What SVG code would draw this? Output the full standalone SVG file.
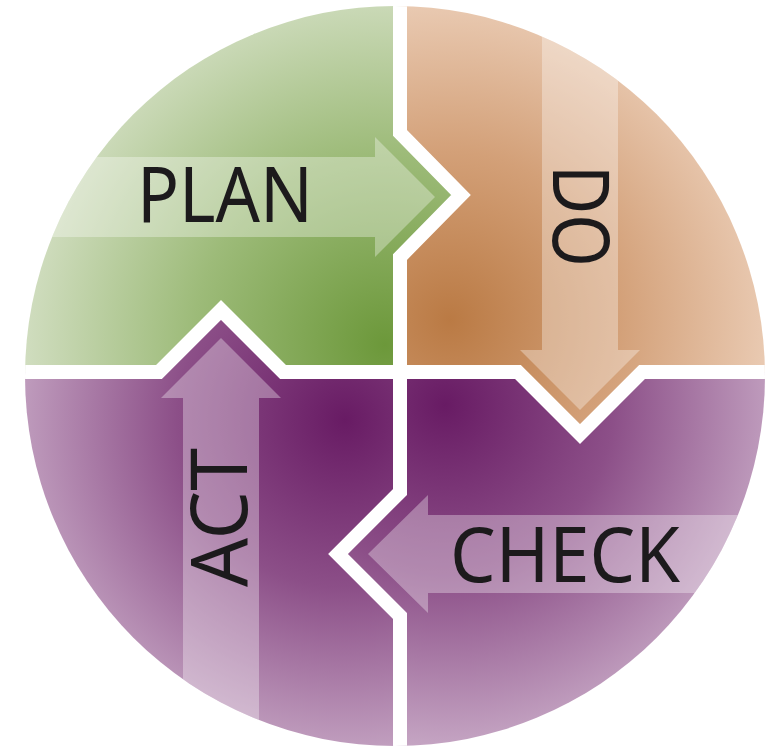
<svg xmlns="http://www.w3.org/2000/svg" width="766" height="747" viewBox="0 0 766 747">
  <style>
    .lbl { font-family: "Noto Sans", "Open Sans", "Liberation Sans", sans-serif; fill: #1c1a1c; }
    .arrow { fill: #ffffff; fill-opacity: 0.33; }
    .gap { fill: none; stroke: #ffffff; stroke-width: 14; stroke-linejoin: miter; stroke-miterlimit: 10; }
  </style>
  <defs>
    <clipPath id="circ"><circle cx="395" cy="376" r="370"/></clipPath>
    <clipPath id="qPlan"><path d="M0,0 H400 V133 L461,195 L400,257 V372 H283 L221,310 L159,372 H0 Z"/></clipPath>
    <clipPath id="qDo"><path d="M400,0 H766 V372 H642 L580,434 L518,372 H400 V257 L461,195 L400,133 Z"/></clipPath>
    <clipPath id="qCheck"><path d="M400,372 H518 L580,434 L642,372 H766 V747 H400 V616 L338,554 L400,492 Z"/></clipPath>
    <clipPath id="qAct"><path d="M0,372 H159 L221,310 L283,372 H400 V492 L338,554 L400,616 V747 H0 Z"/></clipPath>
    <radialGradient id="gPlan" gradientUnits="userSpaceOnUse" cx="385" cy="345" r="480">
      <stop offset="0" stop-color="#6c983a"/>
      <stop offset="0.4" stop-color="#9dbb79"/>
      <stop offset="0.75" stop-color="#d0ddbf"/>
      <stop offset="1" stop-color="#eef3e7"/>
    </radialGradient>
    <radialGradient id="gDo" gradientUnits="userSpaceOnUse" cx="450" cy="320" r="420">
      <stop offset="0" stop-color="#ba7a44"/>
      <stop offset="0.4" stop-color="#d3a078"/>
      <stop offset="0.8" stop-color="#eccfb9"/>
      <stop offset="1" stop-color="#f5e3d5"/>
    </radialGradient>
    <radialGradient id="gCheck" gradientUnits="userSpaceOnUse" cx="445" cy="405" r="420">
      <stop offset="0" stop-color="#681b64"/>
      <stop offset="0.4" stop-color="#8c4f88"/>
      <stop offset="0.8" stop-color="#c3a2c1"/>
      <stop offset="1" stop-color="#d9c4d8"/>
    </radialGradient>
    <radialGradient id="gAct" gradientUnits="userSpaceOnUse" cx="345" cy="420" r="420">
      <stop offset="0" stop-color="#681b64"/>
      <stop offset="0.4" stop-color="#8c4f88"/>
      <stop offset="0.8" stop-color="#c3a2c1"/>
      <stop offset="1" stop-color="#d9c4d8"/>
    </radialGradient>
  </defs>

  <g clip-path="url(#circ)">
    <g id="plan">
      <g clip-path="url(#qPlan)">
        <rect x="0" y="0" width="766" height="747" fill="url(#gPlan)"/>
        <polygon class="arrow" points="0,157 375,157 375,137 435,197 375,257 375,237 0,237"/>
      </g>
      <text class="lbl" x="137" y="222" font-size="76" textLength="176" lengthAdjust="spacingAndGlyphs">PLAN</text>
    </g>

    <g id="do">
      <g clip-path="url(#qDo)">
        <rect x="0" y="0" width="766" height="747" fill="url(#gDo)"/>
        <polygon class="arrow" points="542,0 618,0 618,350 640,350 580,410 520,350 542,350"/>
      </g>
      <text class="lbl" transform="translate(553,165) rotate(90)" x="0" y="0" font-size="79" textLength="102" lengthAdjust="spacingAndGlyphs">DO</text>
    </g>

    <g id="check">
      <g clip-path="url(#qCheck)">
        <rect x="0" y="0" width="766" height="747" fill="url(#gCheck)"/>
        <polygon class="arrow" points="766,515 428,515 428,495 368,554 428,613 428,593 766,593"/>
      </g>
      <text class="lbl" x="450" y="582" font-size="76" textLength="230" lengthAdjust="spacingAndGlyphs">CHECK</text>
    </g>

    <g id="act">
      <g clip-path="url(#qAct)">
        <rect x="0" y="0" width="766" height="747" fill="url(#gAct)"/>
        <polygon class="arrow" points="183,747 183,398 161,398 221,338 281,398 259,398 259,747"/>
      </g>
      <text class="lbl" transform="translate(247,587) rotate(-90)" x="0" y="0" font-size="79" textLength="139" lengthAdjust="spacingAndGlyphs">ACT</text>
    </g>

    <g id="separators">
      <polyline class="gap" points="400,0 400,133 461,195 400,257 400,372"/>
      <polyline class="gap" points="400,372 518,372 580,434 642,372 766,372"/>
      <polyline class="gap" points="400,372 400,492 338,554 400,616 400,747"/>
      <polyline class="gap" points="400,372 283,372 221,310 159,372 0,372"/>
    </g>
  </g>
</svg>
